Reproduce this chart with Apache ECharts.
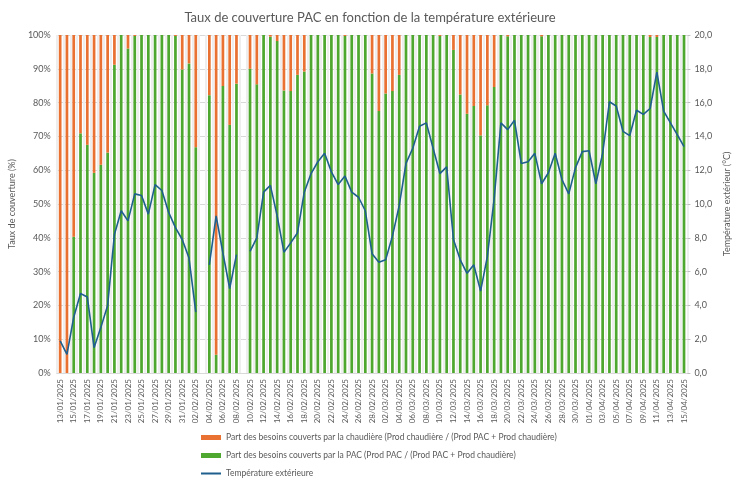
<!DOCTYPE html>
<html>
<head>
<meta charset="utf-8">
<script src="https://cdn.jsdelivr.net/npm/echarts@6/dist/echarts.min.js"></script>
<style>
html,body{margin:0;padding:0;background:#fff;}
#c{width:740px;height:480px;}
</style>
</head>
<body>
<div id="c"></div>
<script>
const categories = [
'13/01/2025','14/01/2025','15/01/2025','16/01/2025','17/01/2025','18/01/2025','19/01/2025','20/01/2025','21/01/2025','22/01/2025',
'23/01/2025','24/01/2025','25/01/2025','26/01/2025','27/01/2025','28/01/2025','29/01/2025','30/01/2025','31/01/2025',
'01/02/2025','02/02/2025','03/02/2025','04/02/2025','05/02/2025','06/02/2025','07/02/2025','08/02/2025','09/02/2025','10/02/2025',
'11/02/2025','12/02/2025','13/02/2025','14/02/2025','15/02/2025','16/02/2025','17/02/2025','18/02/2025','19/02/2025','20/02/2025',
'21/02/2025','22/02/2025','23/02/2025','24/02/2025','25/02/2025','26/02/2025','27/02/2025','28/02/2025',
'01/03/2025','02/03/2025','03/03/2025','04/03/2025','05/03/2025','06/03/2025','07/03/2025','08/03/2025','09/03/2025','10/03/2025',
'11/03/2025','12/03/2025','13/03/2025','14/03/2025','15/03/2025','16/03/2025','17/03/2025','18/03/2025','19/03/2025','20/03/2025',
'21/03/2025','22/03/2025','23/03/2025','24/03/2025','25/03/2025','26/03/2025','27/03/2025','28/03/2025','29/03/2025','30/03/2025','31/03/2025',
'01/04/2025','02/04/2025','03/04/2025','04/04/2025','05/04/2025','06/04/2025','07/04/2025','08/04/2025','09/04/2025','10/04/2025',
'11/04/2025','12/04/2025','13/04/2025','14/04/2025','15/04/2025'
];

// Part PAC (%)
const partPAC = [
0,0,40.3,70.9,67.5,59.2,61.6,65.2,91.2,100,
96.0,99.7,100,100,100,100,100,99.7,89.8,
91.6,66.8,null,82.2,5.4,84.9,73.4,85.6,null,90.0,
85.4,100,99.5,98.2,83.6,83.4,88.2,89.2,100,100,
100,100,100,99.7,100,100,100,88.6,
77.5,82.7,83.4,88.2,100,100,100,100,100,99.7,
100,95.6,82.4,76.7,79.0,70.3,79.2,84.6,100,99.6,
100,100,100,100,99.6,100,100,100,100,100,100,
100,100,100,100,100,100,100,100,100,99.4,
99.4,100,100,100,100
];

// Part chaudière (%)
const partChaudiere = [
100,100,59.7,29.1,32.5,40.8,38.4,34.8,8.8,0,
4.0,0.3,0,0,0,0,0,0.3,10.2,
8.4,33.2,null,17.8,94.6,15.1,26.6,14.4,null,10.0,
14.6,0,0.5,1.8,16.4,16.6,11.8,10.8,0,0,
0,0,0,0.3,0,0,0,11.4,
22.5,17.3,16.6,11.8,0,0,0,0,0,0.3,
0,4.4,17.6,23.3,21.0,29.7,20.8,15.4,0,0.4,
0,0,0,0,0.4,0,0,0,0,0,0,
0,0,0,0,0,0,0,0,0,0.6,
0.6,0,0,0,0
];

// Température extérieure (°C)
const temperature = [
1.9,1.1,3.3,4.7,4.5,1.5,2.7,4.0,8.2,9.6,
9.0,10.6,10.5,9.4,11.15,10.8,9.5,8.6,7.9,
6.8,3.6,null,6.4,9.3,7.1,5.0,7.0,null,7.2,
8.0,10.7,11.1,9.3,7.15,7.7,8.3,10.7,11.8,12.5,
13.0,11.9,11.15,11.65,10.7,10.4,9.6,7.05,
6.55,6.7,8.1,9.9,12.4,13.3,14.6,14.8,13.3,11.8,
12.2,7.9,6.7,5.9,6.4,4.85,6.9,10.3,14.8,14.4,
14.95,12.4,12.5,13.0,11.2,11.85,13.0,11.45,10.6,12.15,13.1,
13.15,11.2,13.0,16.05,15.8,14.3,14.05,15.55,15.3,15.65,
17.8,15.5,14.8,14.1,13.4
];

const nameChaud = 'Part des besoins couverts par la chaudière (Prod chaudière / (Prod PAC + Prod chaudière)';
const namePAC = 'Part des besoins couverts par la PAC (Prod PAC / (Prod PAC + Prod chaudière)';
const nameTemp = 'Température extérieure';

const FONT = 'Lato';
const chart = echarts.init(document.getElementById('c'), null, {renderer:'canvas'});
chart.setOption({
  animation:false,
  backgroundColor:'#ffffff',
  textStyle:{fontFamily:FONT},
  title:{
    text:'Taux de couverture PAC en fonction de la température extérieure',
    left:'center', top:6,
    textStyle:{fontFamily:FONT, fontSize:13, fontWeight:'normal', color:'#595959'}
  },
  grid:{left:55, right:47, top:35, bottom:107, containLabel:false},
  legend:{
    orient:'vertical', left:200, top:432, height:60, itemGap:7,
    itemWidth:20, itemHeight:5, padding:0,
    textStyle:{fontFamily:FONT, fontSize:8.5, color:'#595959', lineHeight:11},
    data:[
      {name:nameChaud, icon:'rect'},
      {name:namePAC, icon:'rect'},
      {name:nameTemp, itemStyle:{opacity:0}}
    ]
  },
  xAxis:{
    type:'category', data:categories, boundaryGap:true,
    axisLine:{lineStyle:{color:'#d9d9d9'}},
    axisTick:{show:false},
    axisLabel:{rotate:90, interval:1, fontSize:8, color:'#595959', fontFamily:FONT, margin:6},
    splitLine:{show:true, interval:0, lineStyle:{color:'#eeeeee', width:2}}
  },
  yAxis:[
    {type:'value', min:0, max:100, interval:10,
     name:'Taux de couverture (%)', nameLocation:'middle', nameGap:38,
     nameTextStyle:{fontSize:9, color:'#595959', fontFamily:FONT},
     axisLabel:{formatter:'{value}%', fontSize:9, color:'#595959', fontFamily:FONT, margin:6},
     axisLine:{show:false}, axisTick:{show:false},
     splitLine:{lineStyle:{color:'#d9d9d9'}}},
    {type:'value', min:0, max:20, interval:2,
     name:'Température extérieur (°C)', nameLocation:'middle', nameGap:32,
     nameTextStyle:{fontSize:9, color:'#595959', fontFamily:FONT},
     axisLabel:{formatter:v=>v.toFixed(1).replace('.',','), fontSize:9, color:'#595959', fontFamily:FONT, margin:7},
     axisLine:{show:false}, axisTick:{show:true, length:3, lineStyle:{color:'#bfbfbf'}},
     splitLine:{show:false}}
  ],
  series:[
    {name:namePAC, type:'bar', stack:'total', data:partPAC, barWidth:'40%',
     itemStyle:{color:'#4ea72e'}},
    {name:nameChaud, type:'bar', stack:'total', data:partChaudiere, barWidth:'40%',
     itemStyle:{color:'#e97132'}},
    {name:nameTemp, type:'line', yAxisIndex:1, data:temperature, symbol:'none',
     connectNulls:false, lineStyle:{color:'#1f5f8e', width:1.6}, itemStyle:{color:'#1f5f8e'}, z:5}
  ]
});
</script>
</body>
</html>
